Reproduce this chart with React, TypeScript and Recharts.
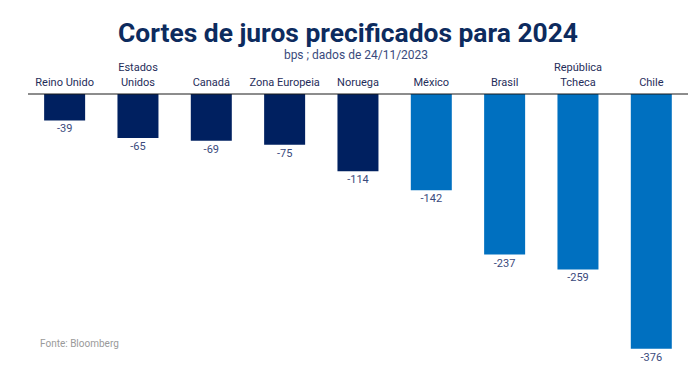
import React from 'react';
import { BarChart, Bar, XAxis, YAxis, Cell, LabelList } from 'recharts';

const countries = ['Reino Unido', 'Estados\nUnidos', 'Canadá', 'Zona Europeia', 'Noruega', 'México', 'Brasil', 'República\nTcheca', 'Chile'];
const cuts = [-39, -65, -69, -75, -114, -142, -237, -259, -376];
const emerging = [false, false, false, false, false, true, true, true, true];

const NAVY = '#002060';
const BLUE = '#0070c0';
const FONT = 'Roboto, "Noto Sans", sans-serif';

const data = countries.map((name, i) => ({ name, value: cuts[i], emerging: emerging[i] }));

const CountryTick = (props: any) => {
    const { x, y, payload } = props;
    const lines = String(payload.value).split('\n');
    const base = y;
    return (
        <g>
            {lines.map((line, i) => (
                <text
                    key={i}
                    x={x}
                    y={base - (lines.length - 1 - i) * 15}
                    textAnchor="middle"
                    fontSize={11}
                    fontFamily={FONT}
                    fill="#1f2d5a"
                >
                    {line}
                </text>
            ))}
        </g>
    );
};

const ValueLabel = (props: any) => {
    const { x, y, width, height, value } = props;
    const bottom = Math.max(y, y + height);
    return (
        <text x={x + width / 2} y={bottom + 12} textAnchor="middle" fontSize={11} fontFamily={FONT} fill="#3a4a7c">
            {value}
        </text>
    );
};

export default function App() {
    return (
        <div style={{ position: 'relative', width: 698, height: 375, background: '#fff', fontFamily: FONT }}>
            <style>{`body{margin:0}`}</style>
            <svg width={698} height={70} style={{ position: 'absolute', left: 0, top: 0 }}>
                <text x={348} y={42} textAnchor="middle" fontSize={26} fontWeight={700} fill="#0d2b5e" fontFamily={FONT} textLength={460} lengthAdjust="spacingAndGlyphs">
                    Cortes de juros precificados para 2024
                </text>
                <text x={356} y={59} textAnchor="middle" fontSize={12} fill="#3a4a7c" fontFamily={FONT}>
                    bps ; dados de 24/11/2023
                </text>
            </svg>
            <BarChart
                width={698}
                height={375}
                data={data}
                margin={{ top: 34, right: 10, left: 28, bottom: 10 }}
                barCategoryGap="22%"
            >
                <XAxis
                    dataKey="name"
                    orientation="top"
                    interval={0}
                    tickLine={false}
                    axisLine={{ stroke: '#1a1a1a', strokeWidth: 1 }}
                    tick={<CountryTick />}
                    height={60}
                />
                <YAxis hide domain={[-400, 0]} />
                <Bar dataKey="value" isAnimationActive={false}>
                    {data.map((d, i) => (
                        <Cell key={i} fill={d.emerging ? BLUE : NAVY} />
                    ))}
                    <LabelList dataKey="value" content={<ValueLabel />} />
                </Bar>
            </BarChart>
            <div style={{ position: 'absolute', left: 40, top: 338, fontSize: 10, color: '#9a9a9a' }}>Fonte: Bloomberg</div>
        </div>
    );
}
